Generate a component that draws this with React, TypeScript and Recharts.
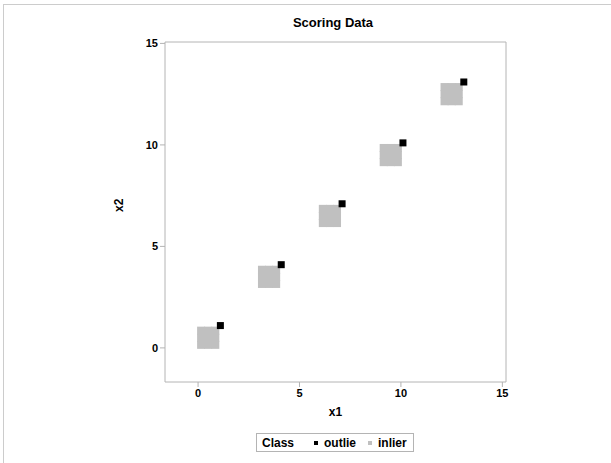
import { ScatterChart, Scatter, XAxis, YAxis, ReferenceArea } from 'recharts';

// outlier scores, one per cluster
const outlierX = [1.1, 4.1, 7.1, 10.1, 13.1];
const outlierY = [1.1, 4.1, 7.1, 10.1, 13.1];

// inlier points, five tight clusters along the diagonal
const inlierX = [
  0.15, 0.5, 0.85, 0.15, 0.5, 0.85, 0.15, 0.5, 0.85, 0.3, 0.7, 0.3, 0.7,
  3.15, 3.5, 3.85, 3.15, 3.5, 3.85, 3.15, 3.5, 3.85,
  6.15, 6.5, 6.85, 6.15, 6.5, 6.85, 6.15, 6.5, 6.85,
  9.15, 9.5, 9.85, 9.15, 9.5, 9.85, 9.15, 9.5, 9.85, 9.3, 9.7, 9.3, 9.7,
  12.15, 12.5, 12.85, 12.15, 12.5, 12.85, 12.15, 12.5, 12.85,
];
const inlierY = [
  0.15, 0.15, 0.15, 0.5, 0.5, 0.5, 0.85, 0.85, 0.85, 0.3, 0.3, 0.7, 0.7,
  3.15, 3.15, 3.15, 3.5, 3.5, 3.5, 3.85, 3.85, 3.85,
  6.15, 6.15, 6.15, 6.5, 6.5, 6.5, 6.85, 6.85, 6.85,
  9.15, 9.15, 9.15, 9.5, 9.5, 9.5, 9.85, 9.85, 9.85, 9.3, 9.3, 9.7, 9.7,
  12.15, 12.15, 12.15, 12.5, 12.5, 12.5, 12.85, 12.85, 12.85,
];

const ticks = [0, 5, 10, 15];
const xDomain = [-1.63, 15.18];
const yDomain = [-1.68, 15.07];

const outliers = outlierX.map((x, i) => ({ x, y: outlierY[i] }));
const inliers = inlierX.map((x, i) => ({ x, y: inlierY[i] }));

const FONT = '"Liberation Sans", Arial, sans-serif';
const AXIS = '#b4b4b4';

const InlierMark = (props: any) => (
  <rect x={props.cx - 4} y={props.cy - 4} width={8} height={8} fill="#c0c0c0" />
);
const OutlierMark = (props: any) => (
  <rect x={props.cx - 3.5} y={props.cy - 3.5} width={7} height={7} fill="#000000" />
);

const LegendBox = () => (
  <div
    style={{
      position: 'absolute',
      left: 256,
      top: 433,
      display: 'flex',
      alignItems: 'center',
      border: '1px solid #b4b4b4',
      height: 19,
      width: 158,
      boxSizing: 'border-box',
      fontFamily: FONT,
      fontWeight: 'bold',
      fontSize: 12,
      color: '#000',
      paddingLeft: 5,
    }}
  >
    <span>Class</span>
    <span style={{ display: 'inline-block', width: 4, height: 4, background: '#000', marginLeft: 20, marginRight: 6 }} />
    <span>outlie</span>
    <span style={{ display: 'inline-block', width: 4, height: 4, background: '#c0c0c0', marginLeft: 12, marginRight: 6 }} />
    <span>inlier</span>
  </div>
);

const App = () => {
  return (
    <div style={{ position: 'absolute', left: 0, top: 0, width: 611, height: 463, background: '#fff' }}>
      <div
        style={{
          position: 'absolute',
          left: 3,
          top: 4,
          width: 607,
          height: 458,
          borderLeft: '1px solid #cccccc',
          borderTop: '1px solid #cccccc',
        }}
      />
      <div
        style={{
          position: 'absolute',
          left: 0,
          top: 15,
          width: 666,
          textAlign: 'center',
          fontFamily: FONT,
          fontWeight: 'bold',
          fontSize: 13,
        }}
      >
        Scoring Data
      </div>
      <ScatterChart
        width={611}
        height={463}
        margin={{ top: 42, right: 105, bottom: 41, left: 115 }}
        style={{ position: 'absolute', left: 0, top: 0 }}
      >
        <XAxis
          type="number"
          dataKey="x"
          domain={xDomain}
          ticks={ticks}
          allowDataOverflow
          height={40}
          axisLine={false}
          tickLine={{ stroke: AXIS }}
          tickSize={5}
          tick={{ fontFamily: FONT, fontWeight: 'bold', fontSize: 11, fill: '#000' }}
          label={{ value: 'x1', position: 'insideBottom', offset: 6, fontFamily: FONT, fontWeight: 'bold', fontSize: 12, fill: '#000' }}
        />
        <YAxis
          type="number"
          dataKey="y"
          domain={yDomain}
          ticks={ticks}
          allowDataOverflow
          width={50}
          axisLine={false}
          tickLine={{ stroke: AXIS }}
          tickSize={5}
          tick={{ fontFamily: FONT, fontWeight: 'bold', fontSize: 11, fill: '#000' }}
          label={{ value: 'x2', angle: -90, position: 'insideLeft', offset: 4, fontFamily: FONT, fontWeight: 'bold', fontSize: 12, fill: '#000' }}
        />
        <ReferenceArea
          x1={xDomain[0]}
          x2={xDomain[1]}
          y1={yDomain[0]}
          y2={yDomain[1]}
          fill="none"
          stroke={AXIS}
          strokeWidth={1}
          ifOverflow="extendDomain"
        />
        <Scatter name="inlier" data={inliers} shape={InlierMark} isAnimationActive={false} />
        <Scatter name="outlie" data={outliers} shape={OutlierMark} isAnimationActive={false} />
      </ScatterChart>
      <LegendBox />
    </div>
  );
};

export default App;
